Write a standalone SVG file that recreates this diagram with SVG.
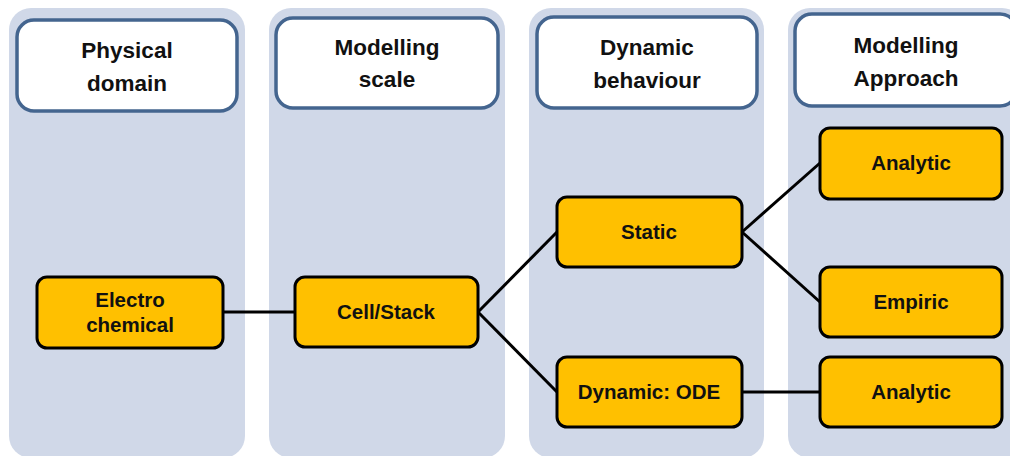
<svg xmlns="http://www.w3.org/2000/svg" width="1010" height="456" viewBox="0 0 1010 456">
  <style>
    .lane { fill: #D0D8E8; }
    .head { fill: #FFFFFF; stroke: #44658F; stroke-width: 3.5; }
    .head-text { font-family: "Liberation Sans", Arial, sans-serif; font-weight: bold; font-size: 22.5px; fill: #111111; text-anchor: middle; }
    .node { fill: #FFC000; stroke: #000000; stroke-width: 3; }
    .node-text { font-family: "Liberation Sans", Arial, sans-serif; font-weight: bold; font-size: 20.5px; fill: #111111; text-anchor: middle; }
    .link { stroke: #000000; stroke-width: 3; fill: none; }
  </style>
  <rect width="1010" height="456" fill="#FFFFFF"/>

  <!-- column lanes with header boxes -->
  <g id="lane-physical-domain">
    <rect class="lane" x="9" y="8" width="236" height="450" rx="22"/>
    <rect class="head" x="17" y="20" width="220" height="91" rx="17"/>
    <text class="head-text" x="127" y="58">Physical</text>
    <text class="head-text" x="127" y="91">domain</text>
  </g>
  <g id="lane-modelling-scale">
    <rect class="lane" x="269" y="8" width="236" height="450" rx="22"/>
    <rect class="head" x="276" y="18" width="222" height="90" rx="17"/>
    <text class="head-text" x="387" y="55">Modelling</text>
    <text class="head-text" x="387" y="87">scale</text>
  </g>
  <g id="lane-dynamic-behaviour">
    <rect class="lane" x="529" y="8" width="235" height="450" rx="22"/>
    <rect class="head" x="537" y="17" width="220" height="91" rx="17"/>
    <text class="head-text" x="647" y="55">Dynamic</text>
    <text class="head-text" x="647" y="88">behaviour</text>
  </g>
  <g id="lane-modelling-approach">
    <rect class="lane" x="788" y="8" width="236" height="450" rx="22"/>
    <rect class="head" x="795" y="14" width="222" height="92" rx="17"/>
    <text class="head-text" x="906" y="53">Modelling</text>
    <text class="head-text" x="906" y="86">Approach</text>
  </g>

  <!-- connectors -->
  <g id="connectors">
    <line class="link" x1="223" y1="312" x2="295" y2="312"/>
    <line class="link" x1="478" y1="312" x2="557" y2="232"/>
    <line class="link" x1="478" y1="312" x2="557" y2="392"/>
    <line class="link" x1="742" y1="232" x2="820" y2="163"/>
    <line class="link" x1="742" y1="232" x2="820" y2="302"/>
    <line class="link" x1="742" y1="392" x2="820" y2="392"/>
  </g>

  <!-- nodes -->
  <g id="node-electrochemical">
    <rect class="node" x="37" y="277" width="186" height="71" rx="10"/>
    <text class="node-text" x="130" y="307">Electro</text>
    <text class="node-text" x="130" y="332">chemical</text>
  </g>
  <g id="node-cell-stack">
    <rect class="node" x="295" y="277" width="183" height="70" rx="10"/>
    <text class="node-text" x="386" y="319">Cell/Stack</text>
  </g>
  <g id="node-static">
    <rect class="node" x="557" y="197" width="185" height="70" rx="10"/>
    <text class="node-text" x="649" y="239">Static</text>
  </g>
  <g id="node-dynamic-ode">
    <rect class="node" x="557" y="357" width="185" height="70" rx="10"/>
    <text class="node-text" x="649" y="399">Dynamic: ODE</text>
  </g>
  <g id="node-analytic-static">
    <rect class="node" x="820" y="128" width="182" height="71" rx="10"/>
    <text class="node-text" x="911" y="170">Analytic</text>
  </g>
  <g id="node-empiric">
    <rect class="node" x="820" y="267" width="182" height="70" rx="10"/>
    <text class="node-text" x="911" y="309">Empiric</text>
  </g>
  <g id="node-analytic-dynamic">
    <rect class="node" x="820" y="357" width="182" height="70" rx="10"/>
    <text class="node-text" x="911" y="399">Analytic</text>
  </g>
</svg>
